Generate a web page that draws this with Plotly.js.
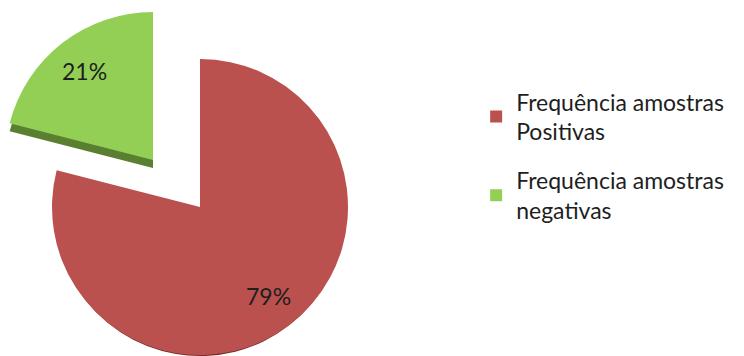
<!DOCTYPE html>
<html>
<head>
<meta charset="utf-8">
<script src="https://cdn.plot.ly/plotly-3.0.1.min.js"></script>
<style>html,body{margin:0;padding:0;background:#fff;}#chart{width:744px;height:356px;}</style>
</head>
<body>
<div id="chart"></div>
<script>
// Data
var categories = ['Frequência amostras<br>Positivas', 'Frequência amostras<br>negativas'];
var values = [79, 21];

// Styles
var topColors = ['#BB514E', '#93CF55'];
var sideColors = ['#7E2F2D', '#5B7F31'];
var clear = 'rgba(0,0,0,0)';
var W = 744, H = 356;

// pie geometry (pixels in the page)
var R = 148;              // radius
var redC = [200, 207];    // centre of the main pie
var greenC = [153, 160];  // centre of the exploded slice
var centres = [redC, greenC];
var depth = 7;
var labelFrac = 0.76;

function dom(c, dy) {
  var cx = c[0] / W, cy = 1 - (c[1] + (dy || 0)) / H;
  var hw = R / W, hh = R / H;
  return {x: [cx - hw, cx + hw], y: [cy - hh, cy + hh]};
}

function pieTrace(colors, d) {
  return {
    type: 'pie',
    labels: categories,
    values: values,
    sort: false,
    direction: 'clockwise',
    rotation: 0,
    domain: d,
    marker: {colors: colors, line: {width: 0}},
    textinfo: 'none',
    hoverinfo: 'none',
    showlegend: false
  };
}

var traces = [];
// legend carriers (tiny, hidden below main pie)
categories.forEach(function (lab, i) {
  traces.push({
    type: 'pie', labels: [lab], values: [values[i]],
    domain: {x: [0.30, 0.305], y: [0.30, 0.305]},
    marker: {colors: [topColors[i]], line: {width: 0}},
    textinfo: 'none', hoverinfo: 'none',
    legendgroup: 'g' + i, showlegend: true
  });
});
// side (depth) layers
traces.push(pieTrace([sideColors[0], clear], dom(redC, depth)));
traces.push(pieTrace([clear, sideColors[1]], dom(greenC, depth + 1)));
// top surfaces
traces.push(pieTrace([topColors[0], clear], dom(redC, 0)));
traces.push(pieTrace([clear, topColors[1]], dom(greenC, 0)));

// percentage labels, placed at each slice's mid-angle
var total = values.reduce(function (a, b) { return a + b; }, 0);
var annotations = [];
var cum = 0;
values.forEach(function (v, i) {
  var mid = (cum + v / 2) / total * 2 * Math.PI;
  cum += v;
  var px = centres[i][0] + Math.sin(mid) * R * labelFrac;
  var py = centres[i][1] - Math.cos(mid) * R * labelFrac;
  annotations.push({
    xref: 'paper', yref: 'paper', x: px / W, y: 1 - py / H,
    text: Math.round(v / total * 100) + '%', showarrow: false,
    xanchor: 'center', yanchor: 'middle',
    font: {family: 'Lato, sans-serif', size: 23, color: '#1e1e1e'}
  });
});

var layout = {
  width: W, height: H,
  margin: {l: 0, r: 0, t: 0, b: 0},
  paper_bgcolor: '#fff',
  showlegend: true,
  annotations: annotations,
  legend: {
    x: 0.64, y: 0.775, xanchor: 'left', yanchor: 'top',
    traceorder: 'grouped', tracegroupgap: 16,
    font: {family: 'Lato, sans-serif', size: 23, color: '#1e1e1e'},
    bgcolor: 'rgba(0,0,0,0)'
  }
};

Plotly.newPlot('chart', traces, layout, {displayModeBar: false, staticPlot: true});
</script>
</body>
</html>
